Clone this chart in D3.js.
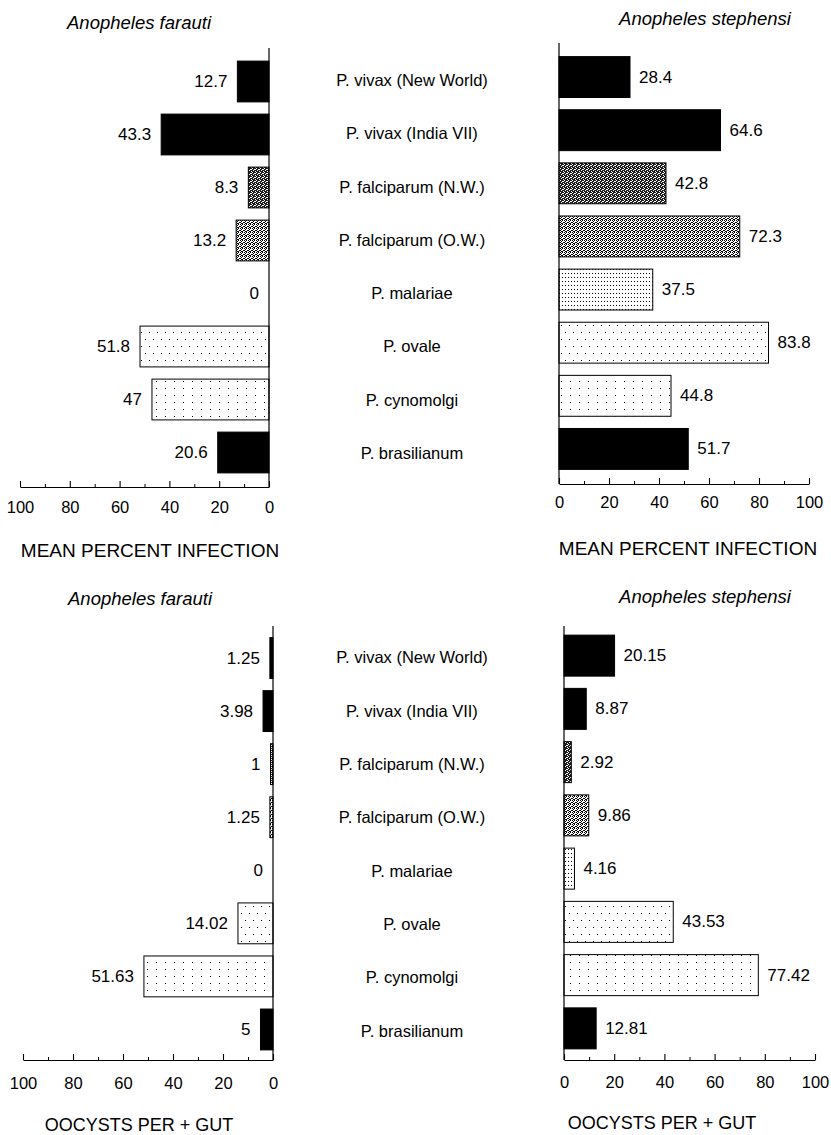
<!DOCTYPE html>
<html>
<head>
<meta charset="utf-8">
<script src="https://cdn.jsdelivr.net/npm/d3@7"></script>
<style>
  html, body { margin: 0; padding: 0; background: #fff; }
  svg { display: block; font-family: "Liberation Sans", Arial, Helvetica, sans-serif; }
</style>
</head>
<body>
<svg id="chart" width="831" height="1135"></svg>
<script>
// ---------------- DATA ----------------
const categories = [
  "P. vivax (New World)",
  "P. vivax (India VII)",
  "P. falciparum (N.W.)",
  "P. falciparum (O.W.)",
  "P. malariae",
  "P. ovale",
  "P. cynomolgi",
  "P. brasilianum"
];
const farautiInfection   = [12.7, 43.3, 8.3, 13.2, 0, 51.8, 47, 20.6];
const stephensiInfection = [28.4, 64.6, 42.8, 72.3, 37.5, 83.8, 44.8, 51.7];
const farautiOocysts     = [1.25, 3.98, 1, 1.25, 0, 14.02, 51.63, 5];
const stephensiOocysts   = [20.15, 8.87, 2.92, 9.86, 4.16, 43.53, 77.42, 12.81];
const majorTicks = [0, 20, 40, 60, 80, 100];
const minorTicks = [10, 30, 50, 70, 90];
const panelTitles = ["Anopheles farauti", "Anopheles stephensi"];
const axisTitles = ["MEAN PERCENT INFECTION", "OOCYSTS PER + GUT"];

// ---------------- STYLE ----------------
const fillIds = ["solid", "solid", "dark", "checker", "dense", "ovale", "cyno", "solid"];

const svg = d3.select("#chart");
const defs = svg.append("defs");

function pat(id, w, h, bg, dots, dotColor) {
  const p = defs.append("pattern").attr("id", id)
    .attr("patternUnits", "userSpaceOnUse").attr("width", w).attr("height", h);
  p.append("rect").attr("width", w).attr("height", h).attr("fill", bg);
  dots.forEach(d => p.append("rect").attr("x", d[0]).attr("y", d[1])
    .attr("width", 1).attr("height", 1).attr("fill", dotColor || "#000")
    .attr("shape-rendering", "crispEdges"));
}
pat("dark", 4, 4, "#1a1a1a", [[0,0],[2,1],[1,2],[3,3],[3,1]], "#fff");
pat("checker", 4, 4, "#fff", [[0,0],[2,0],[1,1],[3,2],[0,2],[2,3],[1,3]]);
pat("dense", 3, 4, "#fff", [[1,1]]);
pat("ovale", 8, 14, "#fff", [[1,3],[5,10]]);
pat("cyno", 9, 7, "#fff", [[3,3]]);

function fillFor(i) {
  return fillIds[i] === "solid" ? "#000" : `url(#${fillIds[i]})`;
}

// ---------------- PANELS ----------------
const panels = [
  { values: farautiInfection,   side: "left",  x0: 269, x100: 20,  yr: [55, 479],     axisY: 487,  axTop: 48,  pad: 14,
    title: panelTitles[0], tx: 139, ty: 22, atitle: axisTitles[0], ax: 150, ay: 550, afs: 19 },
  { values: stephensiInfection, side: "right", x0: 559, x100: 809, yr: [50.5, 475.5], axisY: 484,  axTop: 43,  pad: 12,
    title: panelTitles[1], tx: 705, ty: 18, atitle: axisTitles[0], ax: 688, ay: 548, afs: 19 },
  { values: farautiOocysts,     side: "left",  x0: 273, x100: 23,  yr: [631.5, 1056], axisY: 1060, axTop: 626, pad: 17,
    title: panelTitles[0], tx: 140, ty: 598, atitle: axisTitles[1], ax: 139, ay: 1125, afs: 18 },
  { values: stephensiOocysts,   side: "right", x0: 564, x100: 815, yr: [629, 1055],   axisY: 1060, axTop: 626, pad: 16,
    title: panelTitles[1], tx: 705, ty: 596, atitle: axisTitles[1], ax: 662, ay: 1123, afs: 18 }
];

panels.forEach(p => {
  const g = svg.append("g");
  const x = d3.scaleLinear().domain([0, 100]).range([p.x0, p.x100]);
  const y = d3.scaleBand().domain(categories).range(p.yr).paddingInner(0.23).paddingOuter(0.115);
  const rowsData = p.values.map((v, i) => ({ v, i, cat: categories[i] }));

  // bars
  g.selectAll("rect.bar").data(rowsData.filter(d => d.v > 0)).enter().append("rect")
    .attr("class", "bar")
    .attr("x", d => Math.min(x(0), x(d.v)))
    .attr("width", d => Math.abs(x(d.v) - x(0)))
    .attr("y", d => y(d.cat))
    .attr("height", y.bandwidth())
    .attr("fill", d => fillFor(d.i))
    .attr("stroke", "#000").attr("stroke-width", 1);

  // value labels
  g.selectAll("text.val").data(rowsData).enter().append("text")
    .attr("class", "val")
    .attr("x", d => p.side === "left" ? x(d.v) - 10 : x(d.v) + 9)
    .attr("y", d => y(d.cat) + y.bandwidth() / 2)
    .attr("dominant-baseline", "central")
    .attr("text-anchor", p.side === "left" ? "end" : "start")
    .attr("font-size", 17)
    .text(d => String(d.v));

  // vertical axis line
  g.append("line").attr("x1", x(0)).attr("x2", x(0))
    .attr("y1", p.axTop).attr("y2", p.axisY)
    .attr("stroke", "#000").attr("stroke-width", 1.2);

  // bottom axis (major)
  const axMaj = d3.axisBottom(x).tickValues(majorTicks).tickSizeInner(-6).tickSizeOuter(0)
    .tickPadding(p.pad).tickFormat(d3.format("d"));
  const ga = g.append("g").attr("transform", `translate(0,${p.axisY})`).call(axMaj);
  ga.select(".domain").attr("stroke-width", 1.2);
  ga.selectAll("text").attr("font-size", 16.5).attr("font-family", null).attr("fill", "#000");
  ga.selectAll("line").attr("stroke-width", 1.1);
  // minor ticks
  const axMin = d3.axisBottom(x).tickValues(minorTicks).tickSizeInner(-3).tickSizeOuter(0).tickFormat("");
  const gm = g.append("g").attr("transform", `translate(0,${p.axisY})`).call(axMin);
  gm.select(".domain").remove();

  // panel title
  g.append("text").attr("x", p.tx).attr("y", p.ty)
    .attr("text-anchor", "middle").attr("dominant-baseline", "central")
    .attr("font-size", 18.5).attr("font-style", "italic")
    .text(p.title);

  // axis title
  g.append("text").attr("x", p.ax).attr("y", p.ay)
    .attr("text-anchor", "middle").attr("dominant-baseline", "central")
    .attr("font-size", p.afs)
    .text(p.atitle);
});

// category labels in the middle column
const rows = [[53.5, 479.5], [630.5, 1057.5]];
rows.forEach(r => {
  const yc = d3.scaleBand().domain(categories).range(r);
  svg.append("g").selectAll("text").data(categories).enter().append("text")
    .attr("x", 412)
    .attr("y", d => yc(d) + yc.bandwidth() / 2)
    .attr("text-anchor", "middle").attr("dominant-baseline", "central")
    .attr("font-size", 16.5)
    .text(d => d);
});
</script>
</body>
</html>
